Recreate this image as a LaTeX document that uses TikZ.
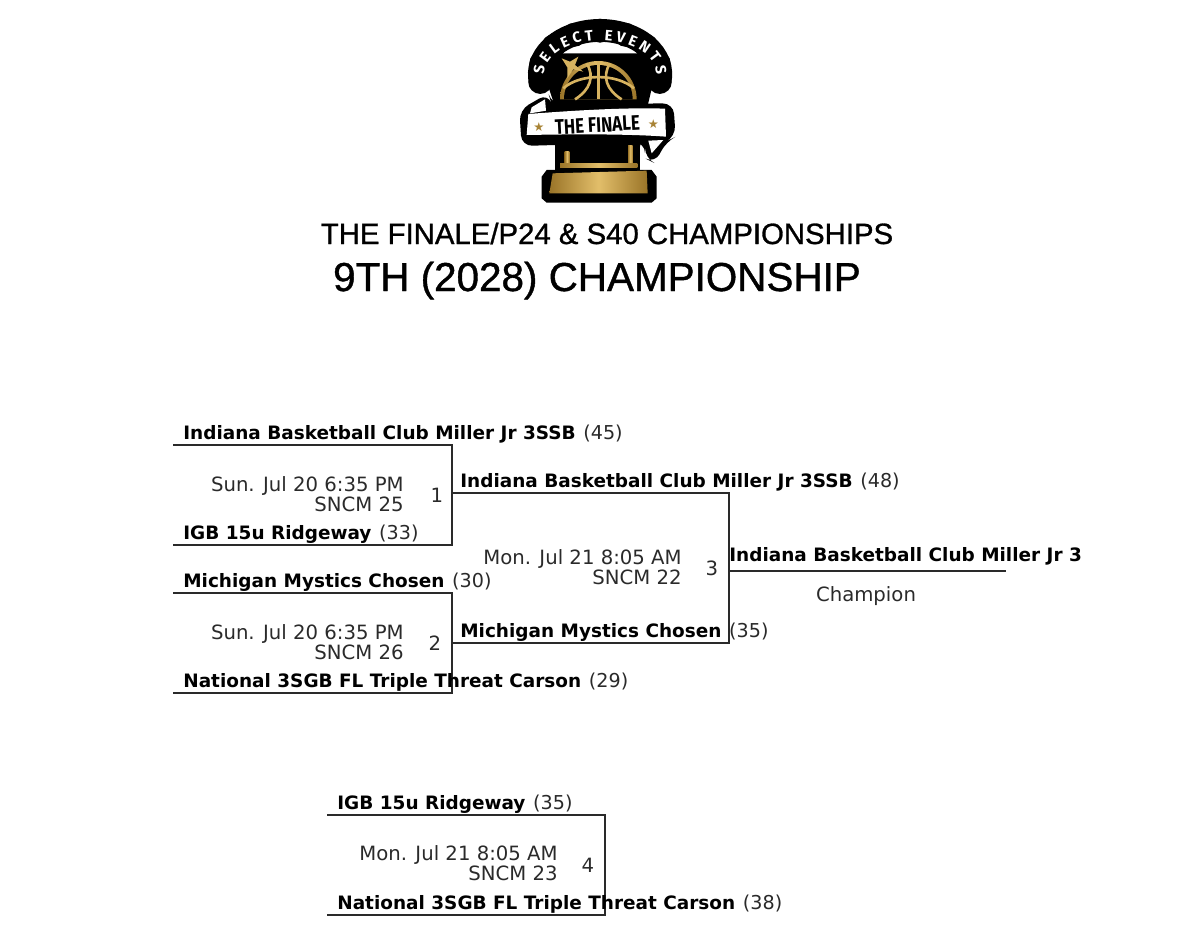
\documentclass[tikz,border=0pt]{standalone}
\usepackage{fontspec}
\setmainfont{DejaVu Sans}
\newfontfamily\titlefont[FakeBold=1]{Liberation Sans}
\newfontfamily\logofont{Fira Sans}
\usetikzlibrary{decorations.text}
\definecolor{golddark}{HTML}{9A7428}
\definecolor{goldlight}{HTML}{E2BE6A}
\definecolor{inkgray}{HTML}{2A2A2A}
\tikzset{
  teamname/.style={anchor=base west,inner sep=0pt,text=black,font=\fontsize{10.5}{12}\selectfont},
  gameinfo/.style={anchor=base east,inner sep=0pt,text=inkgray,font=\fontsize{11.2}{13}\selectfont},
  gamenum/.style={inner sep=0pt,text=inkgray,font=\fontsize{11.2}{13}\selectfont},
  bracketline/.style={draw=inkgray,line width=1.1pt,line cap=rect,line join=miter},
  goldfill/.style={left color=golddark,right color=golddark,middle color=goldlight,draw=none},
  goldline/.style={draw=goldlight!85!golddark,line width=1.5pt}
}
\newcommand{\teamscore}[1]{\hspace{4.4pt}{\fontseries{m}\fontsize{10.9}{13}\selectfont\color{inkgray}(#1)}}
\begin{document}
\begin{tikzpicture}[x=0.02cm,y=-0.02cm]
    \useasboundingbox (0,0) rectangle (1200,951);

    % Logo, in units of the 3x crop
    \begin{scope}[shift={(480,10)},x=0.00667cm,y=-0.00667cm]
        % Black body
        \fill[black] (225,290) -- (200,215) -- (225,130) -- (495,130) -- (520,215) -- (500,300)
            -- (480,410) -- (480,480)
            -- (515,480) -- (530,500) -- (530,565) -- (515,578) -- (200,578) -- (185,565)
            -- (185,500) -- (200,480) -- (225,480) -- cycle;
        % Arch with the lettering
        \foreach \ang in {170,195,...,370}
            \fill[black] ({360+182*cos(\ang)},{193+131*sin(\ang)}) circle (36);
        \draw[black,line width=13pt] (181,215) arc (170:370:182 and 131);
        \path[decorate,decoration={text along path,text align=center,
            text={|\logofont\bfseries\fontsize{8.5}{9}\selectfont\color{white}|S E L E C T {} {} E V E N T S}}]
            (195,210) arc (170:370:168 and 102);
        % Ball
        \fill[goldfill] (240,268) arc (180:360:115) -- cycle;
        \fill[black] (252,268) arc (180:360:103) -- cycle;
        \draw[goldline] (355,153) -- (355,268);
        \draw[goldline] (250,235) .. controls (300,190) and (410,190) .. (462,235);
        \draw[goldline] (320,160) .. controls (345,200) and (330,240) .. (285,268);
        \draw[goldline] (390,160) .. controls (365,200) and (380,240) .. (425,268);
        % Star
        \fill[goldlight!85!golddark] (245,145) -- (270,155) -- (295,140) -- (285,165) -- (310,185)
            -- (280,178) -- (262,205) -- (262,172) -- cycle;
        % Banner
        \fill[black,rounded corners=6pt] (118,300) -- (205,250) -- (215,283) -- (580,280)
            -- (587,380) -- (558,395) -- (525,460) -- (495,445) -- (495,397) -- (125,408) -- cycle;
        \fill[white] (155,292) -- (195,268) -- (198,302) -- (150,310) -- cycle;
        \fill[white] (505,392) -- (550,390) -- (515,430) -- cycle;
        \fill[white] (145,312) .. controls (300,300) and (450,292) .. (555,296)
            -- (558,380) .. controls (450,372) and (300,372) .. (140,375) -- cycle;
        \node[inner sep=0pt,rotate=3,xscale=0.8,font=\logofont\bfseries\fontsize{12}{13}\selectfont] (finale) at (352,345)
            {THE FINALE};
        \node[inner sep=0pt,text=golddark!80!goldlight,font=\fontsize{7}{8}\selectfont] (starleft) at (177,351) {★};
        \node[inner sep=0pt,text=golddark!80!goldlight,font=\fontsize{7}{8}\selectfont] (starright) at (520,341) {★};
        % Trophy
        \fill[goldfill] (254,425) rectangle (268,462);
        \fill[goldfill] (444,408) rectangle (458,462);
        \fill[goldfill] (240,460) rectangle (472,474);
        \fill[goldfill] (218,490) -- (500,482) -- (503,550) -- (208,550) -- cycle;
        \fill[black] (240,474) rectangle (472,484);
    \end{scope}

    % Titles
    \node[anchor=base,inner sep=0pt,font=\titlefont\fontsize{16.7}{18}\selectfont] (title) at (607,244)
        {THE FINALE/P24 \& S40 CHAMPIONSHIPS};
    \node[anchor=base,inner sep=0pt,font=\titlefont\fontsize{23}{24}\selectfont] (subtitle) at (597,291)
        {9TH (2028) CHAMPIONSHIP};

    % Bracket ends
    \coordinate (g1a) at (174,445);
    \coordinate (g1b) at (452,445);
    \coordinate (g1c) at (452,545);
    \coordinate (g1d) at (174,545);
    \coordinate (g1m) at (452,493);
    \coordinate (g2a) at (174,593);
    \coordinate (g2b) at (452,593);
    \coordinate (g2c) at (452,693);
    \coordinate (g2d) at (174,693);
    \coordinate (g2m) at (452,643);
    \coordinate (g3a) at (729,493);
    \coordinate (g3b) at (729,643);
    \coordinate (g3m) at (729,571);
    \coordinate (champ) at (1005,571);
    \coordinate (g4a) at (328,815);
    \coordinate (g4b) at (605,815);
    \coordinate (g4c) at (605,915);
    \coordinate (g4d) at (328,915);

    % Draw the brackets
    \draw[bracketline] (g1a) -- (g1b) -- (g1c) -- (g1d);
    \draw[bracketline] (g2a) -- (g2b) -- (g2c) -- (g2d);
    \draw[bracketline] (g1m) -- (g3a) -- (g3b) -- (g2m);
    \draw[bracketline] (g3m) -- (champ);
    \draw[bracketline] (g4a) -- (g4b) -- (g4c) -- (g4d);

    % Teams
    \node[teamname] (t1) at (183,439) {\textbf{Indiana Basketball Club Miller Jr 3SSB}\teamscore{45}};
    \node[teamname] (t2) at (183,539) {\textbf{IGB 15u Ridgeway}\teamscore{33}};
    \node[teamname] (t3) at (183,587) {\textbf{Michigan Mystics Chosen}\teamscore{30}};
    \node[teamname] (t4) at (183,687) {\textbf{National 3SGB FL Triple Threat Carson}\teamscore{29}};
    \node[teamname] (t5) at (460,487) {\textbf{Indiana Basketball Club Miller Jr 3SSB}\teamscore{48}};
    \node[teamname] (t6) at (460,637) {\textbf{Michigan Mystics Chosen}\teamscore{35}};
    \node[teamname] (t7) at (729,561) {\textbf{Indiana Basketball Club Miller Jr 3}};
    \node[teamname] (t8) at (337,809) {\textbf{IGB 15u Ridgeway}\teamscore{35}};
    \node[teamname] (t9) at (337,909) {\textbf{National 3SGB FL Triple Threat Carson}\teamscore{38}};

    % Game times
    \node[gameinfo] (time1) at (404,491) {Sun. Jul 20 6:35 PM};
    \node[gameinfo] (court1) at (404,511) {SNCM 25};
    \node[gameinfo] (time2) at (404,639) {Sun. Jul 20 6:35 PM};
    \node[gameinfo] (court2) at (404,659) {SNCM 26};
    \node[gameinfo] (time3) at (682,564) {Mon. Jul 21 8:05 AM};
    \node[gameinfo] (court3) at (682,584) {SNCM 22};
    \node[gameinfo] (time4) at (558,860) {Mon. Jul 21 8:05 AM};
    \node[gameinfo] (court4) at (558,880) {SNCM 23};

    % Game numbers
    \node[gamenum] (n1) at (437,495) {1};
    \node[gamenum] (n2) at (435,643) {2};
    \node[gamenum] (n3) at (712,568) {3};
    \node[gamenum] (n4) at (588,865) {4};

    \node[gameinfo,anchor=base] (champlabel) at (866,601) {Champion};
\end{tikzpicture}
\end{document}
